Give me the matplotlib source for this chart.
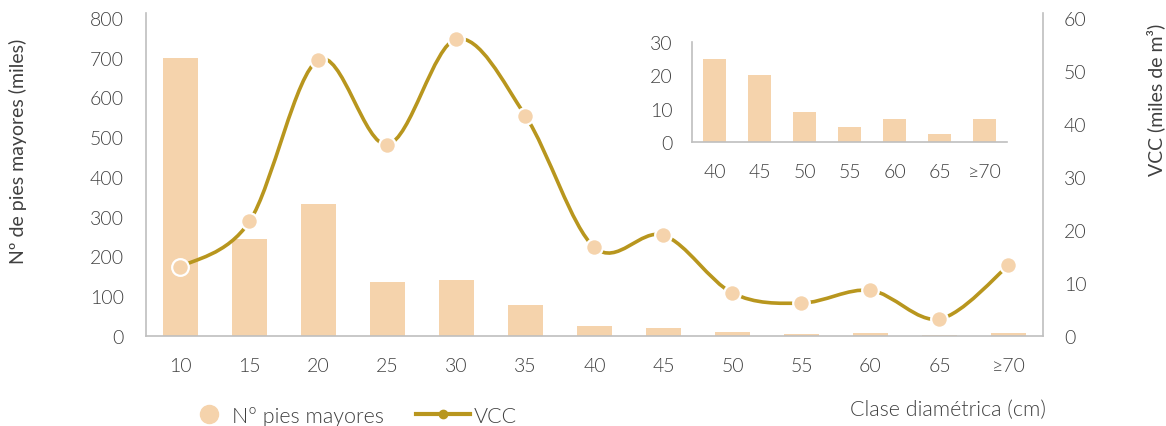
import matplotlib
matplotlib.use("Agg")
import matplotlib.pyplot as plt
from matplotlib.path import Path
from matplotlib.patches import PathPatch
from matplotlib.lines import Line2D
import numpy as np

plt.rcParams["font.family"] = ["Lato", "DejaVu Sans"]
plt.rcParams["font.weight"] = 300

# ----------------------------- data -----------------------------
clases = ["10", "15", "20", "25", "30", "35", "40", "45", "50", "55", "60", "65", "≥70"]
pies = [700, 243, 331, 135, 140, 78, 25, 20, 9, 4.5, 7, 2.4, 7]      # miles
vcc = [13.0, 21.6, 52.1, 36.1, 56.0, 41.5, 16.7, 19.0, 8.1, 6.2, 8.6, 3.2, 13.3]  # miles de m3

inset_clases = clases[6:]
inset_pies = pies[6:]

BAR = "#F5D3AC"
LINE = "#B8961E"
SPINE = "#BFBFBF"
TXT = "#404040"
FS = 14      # tick labels / axis titles
FS_LEG = 15.5


def smooth_path(xs, ys, t=1 / 6):
    """Excel-like smoothed line: cubic Bezier through every point (Catmull-Rom)."""
    pts = np.column_stack([xs, ys]).astype(float)
    verts, codes = [pts[0]], [Path.MOVETO]
    n = len(pts)
    for i in range(n - 1):
        p0 = pts[i - 1] if i > 0 else pts[i]
        p1, p2 = pts[i], pts[i + 1]
        p3 = pts[i + 2] if i + 2 < n else pts[i + 1]
        verts += [p1 + (p2 - p0) * t, p2 - (p3 - p1) * t, p2]
        codes += [Path.CURVE4] * 3
    return Path(verts, codes)


fig = plt.figure(figsize=(11.66, 4.27), dpi=100)
ax = fig.add_axes([0.1252, 0.2108, 0.7693, 0.7564])
ax2 = ax.twinx()

x = np.arange(len(clases))
ax.bar(x, pies, width=0.5, color=BAR, zorder=2)
ax.set_xlim(-0.5, len(clases) - 0.5)
ax.set_ylim(0, 812)
ax.set_yticks(range(0, 801, 100))
ax.set_xticks(x)
ax.set_xticklabels(clases)
ax2.set_ylim(0, 60.9)
ax2.set_yticks(range(0, 61, 10))

ax2.add_patch(PathPatch(smooth_path(x, vcc), facecolor="none", edgecolor=LINE,
                        lw=2.6, capstyle="round", zorder=3))
ax2.plot(x, vcc, ls="none", marker="o", ms=12, mfc=BAR, mec="white", mew=1.6, zorder=4)

for a in (ax, ax2):
    for s in a.spines.values():
        s.set_visible(False)
    a.tick_params(length=0, labelsize=FS, labelcolor=TXT)
ax.spines["left"].set_visible(True)
ax.spines["bottom"].set_visible(True)
ax2.spines["right"].set_visible(True)
for s in (ax.spines["left"], ax.spines["bottom"], ax2.spines["right"]):
    s.set_color(SPINE)
    s.set_linewidth(1.2)
ax.tick_params(axis="y", pad=16)
ax.tick_params(axis="x", pad=15)
ax2.tick_params(axis="y", pad=15)

ax.set_ylabel("Nº de pies mayores (miles)", fontsize=FS, color=TXT)
ax2.set_ylabel("VCC (miles de m³)", fontsize=FS, color=TXT)
ax.yaxis.set_label_coords(-0.133, 0.576)
ax2.yaxis.set_label_coords(1.115, 0.734)

fig.text(0.897, 0.04, "Clase diamétrica (cm)", ha="right", va="center",
         fontsize=FS_LEG, color=TXT)

# two legends so each handle gets its own length
h_bar = Line2D([], [], ls="none", marker="o", ms=13, mfc=BAR, mec=BAR)
h_line = Line2D([], [], color=LINE, lw=3, marker="o", ms=6, mfc=LINE, mec=LINE)
common = dict(loc="center left", frameon=False, fontsize=FS_LEG, labelcolor=TXT,
              borderpad=0, borderaxespad=0)
fig.legend([h_bar], ["Nº pies mayores"], bbox_to_anchor=(0.1698, 0.0234),
           handlelength=1.0, handletextpad=0.58, **common)
fig.legend([h_line], ["VCC"], bbox_to_anchor=(0.3568, 0.0234),
           handlelength=2.5, handletextpad=0.2, **common)

# ----------------------------- inset -----------------------------
axi = fig.add_axes([0.5935, 0.6651, 0.2702, 0.2342])
xi = np.arange(len(inset_clases))
axi.bar(xi, inset_pies, width=0.5, color=BAR)
axi.set_xlim(-0.5, len(inset_clases) - 0.5)
axi.set_ylim(0, 30)
axi.set_yticks([0, 10, 20, 30])
axi.set_xticks(xi)
axi.set_xticklabels(inset_clases)
axi.patch.set_alpha(0)
for k in ("top", "right"):
    axi.spines[k].set_visible(False)
for k in ("left", "bottom"):
    axi.spines[k].set_color(SPINE)
    axi.spines[k].set_linewidth(1.2)
axi.tick_params(length=0, labelsize=FS, labelcolor=TXT)
axi.tick_params(axis="y", pad=14)
axi.tick_params(axis="x", pad=15)

fig.savefig("out.png", dpi=100)
